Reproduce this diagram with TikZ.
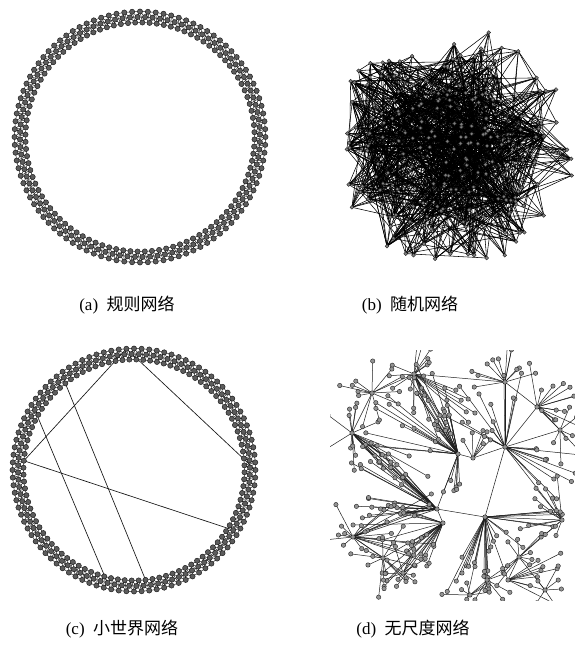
\documentclass[tikz,border=0pt]{standalone}
\usepackage{fontspec}
\setmainfont{Liberation Serif}
\newfontfamily\cjk{Noto Sans CJK SC}
\usetikzlibrary{calc}
\begin{document}
\begin{tikzpicture}[x=1pt,y=-1pt,
  ringedge/.style={line width=0.45pt, draw=black!90},
  ringdot/.style={circle, inner sep=0pt, minimum size=5.2pt, fill=black!64, draw=black!90, line width=0.45pt},
  longedge/.style={line width=0.65pt, draw=black!92},
  redge/.style={line width=0.55pt, draw=black},
  bdot/.style={circle, inner sep=0pt, minimum size=3.8pt, fill=black!50, draw=black!90, line width=0.35pt},
  dedge/.style={line width=0.5pt, draw=black!88},
  ddot/.style={circle, inner sep=0pt, minimum size=4.4pt, fill=black!42, draw=black!88, line width=0.4pt},
  captext/.style={inner sep=0pt, font=\fontsize{17}{20}\selectfont}]
\useasboundingbox (0,0) rectangle (575,649);
\fill[white] (0,0) rectangle (575,649);

% ---------------- (a) regular ring lattice ----------------
\foreach \i in {0,...,299}{
  \pgfmathsetmacro\rr{125.5-5.5*mod(\i,3)}
  \pgfmathsetmacro\ang{90+1.2*\i}
  \coordinate (a\i) at ({140+\rr*cos(\ang)},{137-\rr*sin(\ang)});
}
\foreach \i in {0,...,299}{
  \foreach \k in {1,2,3}{
    \pgfmathtruncatemacro\j{mod(\i+\k,300)}
    \draw[ringedge] (a\i) -- (a\j);
  }
}
\foreach \i in {0,...,299}{\node[ringdot] (an\i) at (a\i) {};}

% ---------------- (c) small world ----------------
\foreach \i in {0,...,299}{
  \pgfmathsetmacro\rr{121.5-5.5*mod(\i,3)}
  \pgfmathsetmacro\ang{1.2*\i}
  \coordinate (c\i) at ({134+\rr*cos(\ang)},{470-\rr*sin(\ang)});
}
\foreach \i in {0,...,299}{
  \foreach \k in {1,2,3}{
    \pgfmathtruncatemacro\j{mod(\i+\k,300)}
    \draw[ringedge] (c\i) -- (c\j);
  }
}
\draw[longedge] (c78) -- (c146);
\draw[longedge] (c78) -- (c0);
\draw[longedge] (c146) -- (c274);
\draw[longedge] (c107) -- (c230);
\draw[longedge] (c124) -- (c214);
\foreach \i in {0,...,299}{\node[ringdot] (cn\i) at (c\i) {};}

% ---------------- (b) random network ----------------
\pgfmathsetseed{12345}
\begin{scope}
\clip (330,22) rectangle (575,270);
\foreach \i in {1,...,200}{
  \pgfmathsetmacro\ang{360*rnd}
  \pgfmathsetmacro\rr{pow(rnd,0.6)}
  \coordinate (b\i) at ({453+124*\rr*cos(\ang)},{147+120*\rr*sin(\ang)});
}
\foreach \k in {1,...,1000}{
  \pgfmathtruncatemacro\p{random(1,200)}
  \pgfmathtruncatemacro\q{random(1,200)}
  \draw[redge] (b\p) -- (b\q);
}
\foreach \i in {1,...,200}{\node[bdot] (bn\i) at (b\i) {};}
\end{scope}

% ---------------- (d) scale-free network ----------------
\pgfmathsetseed{4711}
\def\dgroups{1/1/30/185/260/20/100, 2/1/6/60/150/15/50, 3/2/12/200/300/20/80,
 4/2/10/-10/50/30/85, 5/3/28/170/230/30/100, 6/4/20/110/200/20/90,
 7/5/20/30/120/15/85, 8/5/6/-15/15/40/90, 9/6/12/0/360/8/40,
 10/7/14/0/360/8/45, 11/8/14/0/360/8/40, 12/9/12/160/370/10/45,
 13/10/12/250/400/15/50, 14/11/12/0/360/8/35, 15/12/12/0/360/8/40,
 16/13/10/0/360/10/40, 17/14/8/0/360/8/30, 18/15/8/-40/30/20/65,
 19/16/10/0/360/8/35, 20/17/10/90/270/10/45, 21/18/6/230/340/10/35,
 22/8/12/20/75/20/90, 23/6/10/-20/50/30/90, 24/7/10/-40/20/30/90,
 25/19/8/0/360/10/35, 26/20/6/180/360/10/30, 27/21/6/0/360/10/30}
\begin{scope}
\clip (330,350) rectangle (575,600);
\foreach \h/\x/\y in {1/458/454, 2/505/447, 3/437/509, 4/443/523, 5/485/517,
  6/352/433, 7/353/537, 8/414/374, 9/505/382, 10/537/407, 11/372/393,
  12/383/558, 13/519/557, 14/487/580, 15/508/580, 16/403/573, 17/562/520,
  18/473/458, 19/560/430, 20/470/595, 21/545/590}{\coordinate (H\h) at (\x,\y);}
\foreach \u/\v in {1/3, 1/18, 18/2, 1/8, 8/11, 8/9, 9/2, 9/10, 10/2, 2/5, 3/4,
  3/5, 5/17, 4/12, 4/16, 6/11, 6/3, 7/3, 7/12, 5/14, 5/15, 13/17, 13/15,
  12/16, 2/17, 19/2, 19/10, 20/14, 21/15, 21/13}{\draw[dedge] (H\u) -- (H\v);}
\foreach \g/\h/\n/\amin/\amax/\rmin/\rmax in \dgroups{
  \foreach \k in {1,...,\n}{
    \pgfmathsetmacro\a{\amin+rnd*(\amax-\amin)}
    \pgfmathsetmacro\r{\rmin+rnd*(\rmax-\rmin)}
    \coordinate (L\g-\k) at ($(H\h)+(\a:\r)$);
    \draw[dedge] (H\h) -- (L\g-\k);
  }
}
\foreach \g/\h/\n/\amin/\amax/\rmin/\rmax in \dgroups{
  \foreach \k in {1,...,\n}{\node[ddot] (Ln\g-\k) at (L\g-\k) {};}
}
\foreach \h in {1,...,21}{\node[ddot] (Hn\h) at (H\h) {};}
\end{scope}

% ---------------- captions ----------------
\node[captext] (capa) at (127,305) {(a)\hspace{0.5em}{\cjk 规则网络}};
\node[captext] (capb) at (410,305) {(b)\hspace{0.5em}{\cjk 随机网络}};
\node[captext] (capc) at (122,629) {(c)\hspace{0.5em}{\cjk 小世界网络}};
\node[captext] (capd) at (413,629) {(d)\hspace{0.5em}{\cjk 无尺度网络}};
\end{tikzpicture}
\end{document}
